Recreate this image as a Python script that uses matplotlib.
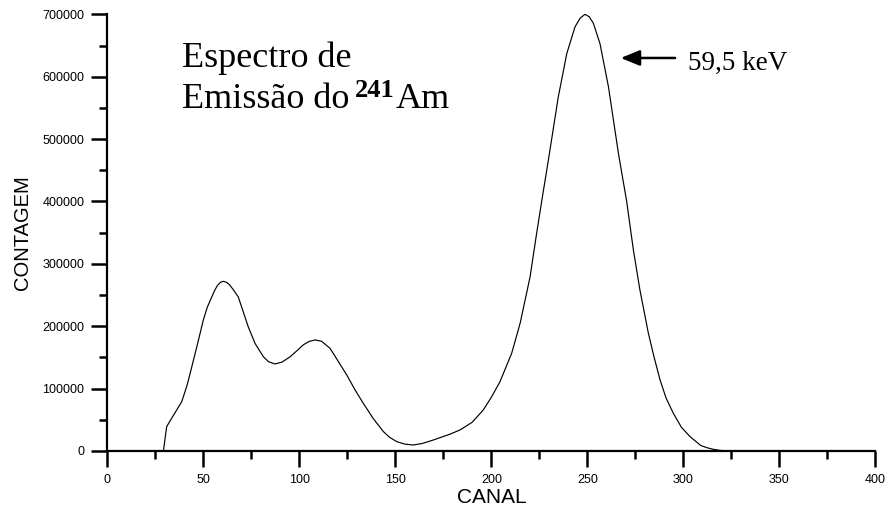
import matplotlib
matplotlib.use("Agg")
import matplotlib.pyplot as plt
from matplotlib.ticker import MultipleLocator

# Spectrum (channel, counts)
canal = [29.2, 30.9, 33.5, 38.75, 41.5, 44, 47, 50, 52, 54.4, 56, 57.5, 59,
         60.4, 62, 63.5, 65.5, 68.2, 73.4, 77, 81.3, 84, 87.3, 91, 95.2, 98.5,
         102, 105, 108.2, 111.5, 116, 120, 124.7, 129, 133.3, 138.5, 143.8,
         147, 150.7, 155, 159.4, 164, 169.8, 178.5, 183.7, 190, 195.8, 200,
         204.5, 210.6, 215, 220.2, 223.6, 227, 229.7, 234.9, 239.3, 243.6,
         246.3, 248.8, 251, 253.1, 256.6, 261, 266.2, 270.5, 274, 277.4,
         281.8, 284.8, 287.9, 291, 294.8, 299, 303.5, 309, 312, 315.6, 319,
         323.4, 400]
contagem = [0, 39000, 52400, 79000, 105000, 135000, 172000, 210000, 230000,
            247000, 258000, 266000, 270500, 272000, 270500, 267000, 259000,
            247000, 199000, 172000, 151000, 143000, 139500, 142500, 151000,
            160000, 170000, 175500, 178000, 176000, 164600, 145000, 121800,
            98000, 76500, 52000, 31000, 22000, 15000, 11000, 9600, 12000,
            17600, 27000, 33700, 46000, 65700, 86000, 111000, 156600, 204700,
            279400, 349000, 415000, 466000, 568000, 637000, 680000, 694000,
            700000, 696000, 686000, 653000, 584000, 477000, 400000, 322000,
            258000, 188700, 150000, 113800, 85000, 60400, 38000, 23000, 9000,
            5500, 2700, 1000, 0, 0]

xticks = [0, 50, 100, 150, 200, 250, 300, 350, 400]
yticks = [0, 100000, 200000, 300000, 400000, 500000, 600000, 700000]

sans = "Liberation Sans"
serif = "Liberation Serif"

fig = plt.figure(figsize=(8.9, 5.13), dpi=100)
ax = fig.add_axes([0.1206, 0.1209, 0.8629, 0.8512])

ax.plot(canal, contagem, color="black", lw=0.85)

ax.set_xlim(0, 400)
ax.set_ylim(0, 700000)
ax.set_xticks(xticks)
ax.set_yticks(yticks)
ax.xaxis.set_minor_locator(MultipleLocator(25))
ax.yaxis.set_minor_locator(MultipleLocator(50000))
ax.set_xticklabels([str(v) for v in xticks], family=sans, fontsize=9)
ax.set_yticklabels([str(v) for v in yticks], family=sans, fontsize=9)

for s in ("top", "right"):
    ax.spines[s].set_visible(False)
for s in ("left", "bottom"):
    ax.spines[s].set_linewidth(1.6)
ax.tick_params(which="major", length=11.5, width=1.8, pad=5, direction="out")
ax.tick_params(which="minor", length=5.8, width=1.8, direction="out")

ax.set_xlabel("CANAL", family=sans, fontsize=15)
ax.set_ylabel("CONTAGEM", family=sans, fontsize=14.5)
ax.xaxis.set_label_coords(0.5, -0.084)
ax.yaxis.set_label_coords(-0.098, 0.5)

# title block inside the plot, superscript placed right after "do"
ax.text(38.75, 616000, "Espectro de", family=serif, fontsize=26, va="baseline")
t2 = ax.text(38.75, 549300, "Emissão do", family=serif, fontsize=26,
             va="baseline")
fig.canvas.draw()
r = fig.canvas.get_renderer()
inv = ax.transData.inverted()
x_end = inv.transform(t2.get_window_extent(r).p1)[0]
t3 = ax.text(x_end + 3, 568000, "241", family=serif, fontsize=19,
             weight="bold", va="baseline")
x_end = inv.transform(t3.get_window_extent(r).p1)[0]
ax.text(x_end + 0.5, 549300, "Am", family=serif, fontsize=26, va="baseline")

# peak annotation
ax.annotate("", xy=(267.4, 630000), xytext=(295.7, 630000),
            arrowprops=dict(arrowstyle="-|>,head_length=1.15,head_width=0.47",
                            color="black", lw=1.8, shrinkA=0, shrinkB=0))
ax.text(302.4, 610700, "59,5 keV", family=serif, fontsize=19.5, va="baseline")

fig.savefig("out.png", dpi=100, facecolor="white")
